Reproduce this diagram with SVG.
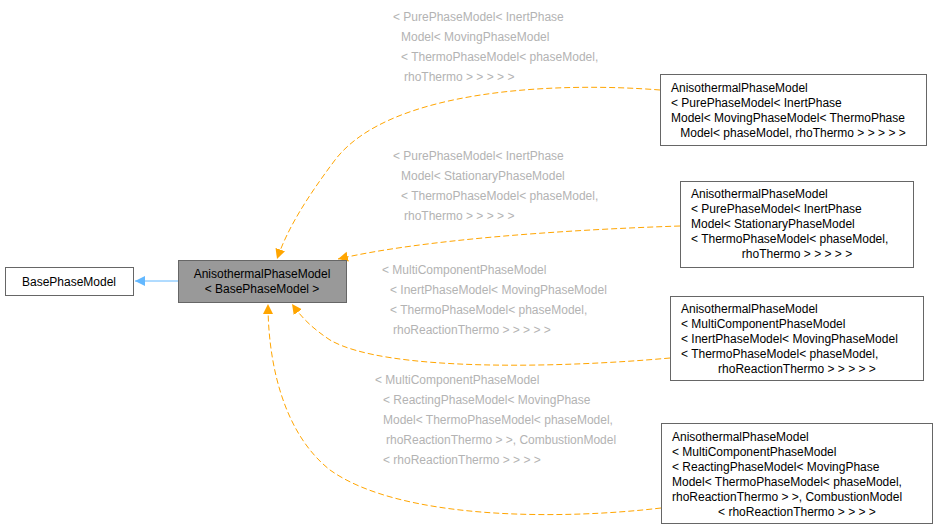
<svg xmlns="http://www.w3.org/2000/svg" width="939" height="529" viewBox="0 0 939 529">
<style>
text{font-family:"Liberation Sans",Arial,sans-serif;font-size:12px;fill:#000}
.n{fill:#fff;stroke:#666;stroke-width:1}
.l text{fill:#b3b3b3}
.e{fill:none;stroke:#ffa500;stroke-dasharray:6,3;stroke-width:1}
</style>
<defs>
<marker id="ao" markerWidth="12" markerHeight="12" refX="10" refY="5" orient="auto" markerUnits="userSpaceOnUse"><path d="M0,0 L10,5 L0,10 z" fill="#ffa500"/></marker>
<marker id="ab" markerWidth="12" markerHeight="12" refX="10" refY="5" orient="auto" markerUnits="userSpaceOnUse"><path d="M0,0 L10,5 L0,10 z" fill="#63b8ff"/></marker>
</defs>
<rect width="939" height="529" fill="#fff"/>
<g id="connectors">
<path d="M178,281 L135,281" fill="none" stroke="#63b8ff" marker-end="url(#ab)"/>
<path class="e" d="M660,90 C560,82 390,88 335,160 C305,200 287,230 277,259" marker-end="url(#ao)"/>
<path class="e" d="M680,226 C560,230 420,240 338,259" marker-end="url(#ao)"/>
<path class="e" d="M670,358 C560,368 385,372 330,340 C312,328 302,318 292,304" marker-end="url(#ao)"/>
<path class="e" d="M661,508 C560,520 400,520 330,470 C282,432 268,360 268,304" marker-end="url(#ao)"/>
</g>
<g class="l">
<text x="393" y="21">&lt; PurePhaseModel&lt; InertPhase</text>
<text x="401" y="41">Model&lt; MovingPhaseModel</text>
<text x="401" y="61">&lt; ThermoPhaseModel&lt; phaseModel,</text>
<text x="404" y="81">rhoThermo &gt; &gt; &gt; &gt; &gt;</text>
<text x="393" y="160">&lt; PurePhaseModel&lt; InertPhase</text>
<text x="401" y="180">Model&lt; StationaryPhaseModel</text>
<text x="401" y="200">&lt; ThermoPhaseModel&lt; phaseModel,</text>
<text x="404" y="220">rhoThermo &gt; &gt; &gt; &gt; &gt;</text>
<text x="382" y="274">&lt; MultiComponentPhaseModel</text>
<text x="390" y="294">&lt; InertPhaseModel&lt; MovingPhaseModel</text>
<text x="390" y="314">&lt; ThermoPhaseModel&lt; phaseModel,</text>
<text x="393" y="334">rhoReactionThermo &gt; &gt; &gt; &gt; &gt;</text>
<text x="375" y="384">&lt; MultiComponentPhaseModel</text>
<text x="383" y="404">&lt; ReactingPhaseModel&lt; MovingPhase</text>
<text x="383" y="424">Model&lt; ThermoPhaseModel&lt; phaseModel,</text>
<text x="386" y="444">rhoReactionThermo &gt; &gt;, CombustionModel</text>
<text x="383" y="464">&lt; rhoReactionThermo &gt; &gt; &gt; &gt;</text>
</g>
<g id="base"><rect class="n" x="5.5" y="267.5" width="128" height="28"/><text x="69" y="286" text-anchor="middle">BasePhaseModel</text></g>
<g id="aniso"><rect x="178.5" y="260.5" width="168" height="42" fill="#999" stroke="#666"/><text x="262" y="278" text-anchor="middle">AnisothermalPhaseModel</text><text x="262" y="293" text-anchor="middle">&lt; BasePhaseModel &gt;</text></g>
<g id="nA"><rect class="n" x="660.5" y="74.5" width="266" height="71"/>
<text x="671" y="92">AnisothermalPhaseModel</text><text x="671" y="107">&lt; PurePhaseModel&lt; InertPhase</text><text x="671" y="122">Model&lt; MovingPhaseModel&lt; ThermoPhase</text><text x="793" y="137" text-anchor="middle">Model&lt; phaseModel, rhoThermo &gt; &gt; &gt; &gt; &gt;</text></g>
<g id="nB"><rect class="n" x="680.5" y="181.5" width="233" height="86"/>
<text x="691" y="198">AnisothermalPhaseModel</text><text x="691" y="213">&lt; PurePhaseModel&lt; InertPhase</text><text x="691" y="228">Model&lt; StationaryPhaseModel</text><text x="691" y="243">&lt; ThermoPhaseModel&lt; phaseModel,</text><text x="797" y="258" text-anchor="middle">rhoThermo &gt; &gt; &gt; &gt; &gt;</text></g>
<g id="nC"><rect class="n" x="670.5" y="296.5" width="253" height="84"/>
<text x="681" y="313">AnisothermalPhaseModel</text><text x="681" y="328">&lt; MultiComponentPhaseModel</text><text x="681" y="343">&lt; InertPhaseModel&lt; MovingPhaseModel</text><text x="681" y="358">&lt; ThermoPhaseModel&lt; phaseModel,</text><text x="797" y="373" text-anchor="middle">rhoReactionThermo &gt; &gt; &gt; &gt; &gt;</text></g>
<g id="nD"><rect class="n" x="661.5" y="423.5" width="271" height="100"/>
<text x="672" y="441">AnisothermalPhaseModel</text><text x="672" y="456">&lt; MultiComponentPhaseModel</text><text x="672" y="471">&lt; ReactingPhaseModel&lt; MovingPhase</text><text x="672" y="486">Model&lt; ThermoPhaseModel&lt; phaseModel,</text><text x="672" y="501">rhoReactionThermo &gt; &gt;, CombustionModel</text><text x="797" y="516" text-anchor="middle">&lt; rhoReactionThermo &gt; &gt; &gt; &gt;</text></g>
</svg>
